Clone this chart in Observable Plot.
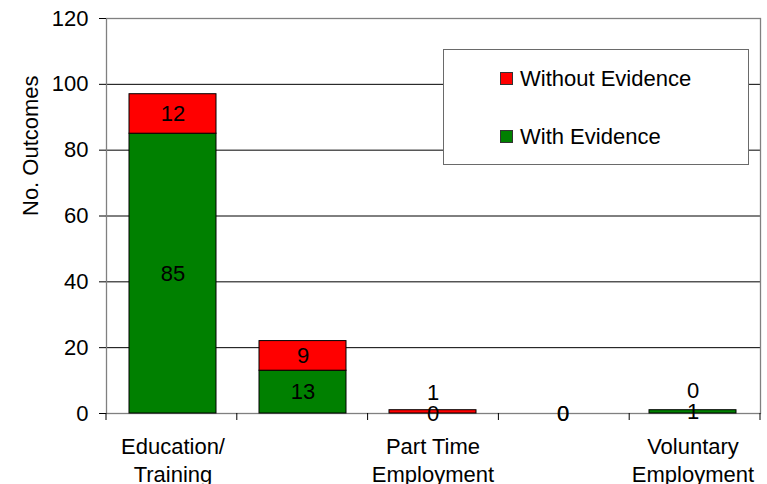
<!DOCTYPE html>
<html>
<head>
<meta charset="utf-8">
<script src="https://cdn.jsdelivr.net/npm/d3@7"></script>
<script src="https://cdn.jsdelivr.net/npm/@observablehq/plot@0.6"></script>
<style>
  html, body { margin: 0; padding: 0; background: #fff; }
  #wrap { position: relative; width: 767px; height: 484px; overflow: hidden; font-family: "Liberation Sans", Arial, sans-serif; }
  #legend { position: absolute; left: 443px; top: 49px; width: 306px; height: 116px; border: 1px solid #6a6a6a; background: #fff; box-sizing: border-box; }
  .sw { position: absolute; width: 13px; height: 13px; border: 1px solid #333; box-sizing: border-box; }
  .lt { position: absolute; font-size: 22px; line-height: 22px; color: #000; white-space: nowrap; }
</style>
</head>
<body>
<div id="wrap"></div>
<script>
const categories = ["Education/Training", "Full Time Employment", "Part Time Employment", "Self Employment", "Voluntary Employment"];
const tickLabels = ["Education/\nTraining", "", "Part Time\nEmployment", "", "Voluntary\nEmployment"];
const withEvidence = [85, 13, 0, 0, 1];
const withoutEvidence = [12, 9, 1, 0, 0];
const seriesNames = ["With Evidence", "Without Evidence"];
const seriesColors = ["#008000", "#FF0000"];
const legendOrder = ["Without Evidence", "With Evidence"];
const yTicks = [0, 20, 40, 60, 80, 100, 120];
const yLabel = "No. Outcomes";

// build stacked rows from the values
const rows = [];
categories.forEach((c, i) => {
  const w = withEvidence[i], wo = withoutEvidence[i];
  rows.push({cat: c, series: seriesNames[0], value: w, y1: 0, y2: w, mid: w / 2, lift: false});
  rows.push({cat: c, series: seriesNames[1], value: wo, y1: w, y2: w + wo, mid: w + wo / 2, lift: (w + wo) > 0 && (w + wo) < 5});
});

const font = '"Liberation Sans", Arial, sans-serif';
const fs = 22;

const plot = Plot.plot({
  width: 767,
  height: 484,
  marginLeft: 106,
  marginRight: 7,
  marginTop: 18,
  marginBottom: 71,
  style: {fontFamily: font, fontSize: fs + "px", background: "#fff", color: "#000", overflow: "visible"},
  x: {domain: categories, paddingInner: 0.327, paddingOuter: 0.1635, axis: null},
  y: {domain: [0, 120], axis: null},
  color: {domain: seriesNames, range: seriesColors},
  marks: [
    Plot.ruleY(yTicks.filter(t => t > 0 && t < 120), {stroke: "#000", strokeWidth: 1}),
    Plot.frame({stroke: "#808080", strokeWidth: 1.3}),
    Plot.ruleX([0], {stroke: "#606060", strokeWidth: 1.3, frameAnchor: "left"}),
    Plot.axisY({ticks: yTicks, tickSize: 7, tickPadding: 11, fontSize: fs, label: null, stroke: "#000"}),
    Plot.barY(rows.filter(d => d.value > 0), {x: "cat", y1: "y1", y2: "y2", fill: "series", stroke: "#000", strokeWidth: 1}),
    Plot.text(rows.filter(d => !d.lift), {x: "cat", y: "mid", text: d => String(d.value), fontSize: fs, fill: "#000"}),
    Plot.text(rows.filter(d => d.lift), {x: "cat", y: "mid", text: d => String(d.value), fontSize: fs, fill: "#000", dy: -19}),
    Plot.text(categories, {x: d => d, y: 0, text: (d, i) => tickLabels[i], lineAnchor: "top", dy: 20, lineHeight: 1.28, fontSize: fs, fill: "#000"}),
    Plot.text([yLabel], {frameAnchor: "left", rotate: -90, dx: -76, fontSize: fs, fill: "#000"})
  ]
});

document.getElementById("wrap").appendChild(plot);

// category boundary ticks on the x axis, derived from the band scale
(function () {
  const sx = plot.scale("x");
  const sy = plot.scale("y");
  const band = d3.scaleBand().domain(sx.domain).range(sx.range)
    .paddingInner(sx.paddingInner).paddingOuter(sx.paddingOuter).align(sx.align ?? 0.5);
  const step = band.step();
  const xs = categories.map(c => band(c) + band.bandwidth() / 2 - step / 2);
  xs.push(band(categories[categories.length - 1]) + band.bandwidth() / 2 + step / 2);
  const y0 = sy.apply ? sy.apply(0) : d3.scaleLinear().domain(sy.domain).range(sy.range)(0);
  const g = d3.select(plot).append("g").attr("stroke", "#000").attr("stroke-width", 1);
  xs.forEach(x => g.append("line").attr("x1", x).attr("x2", x).attr("y1", y0).attr("y2", y0 + 7));
})();

// legend
const legend = document.createElement("div");
legend.id = "legend";
legendOrder.forEach((name, k) => {
  const top = k === 0 ? 22 : 80;
  const sw = document.createElement("div");
  sw.className = "sw";
  sw.style.left = "56px";
  sw.style.top = top + "px";
  sw.style.background = seriesColors[seriesNames.indexOf(name)];
  const t = document.createElement("div");
  t.className = "lt";
  t.style.left = "76px";
  t.style.top = (top - 4.5) + "px";
  t.textContent = name;
  legend.appendChild(sw);
  legend.appendChild(t);
});
document.getElementById("wrap").appendChild(legend);
</script>
</body>
</html>
